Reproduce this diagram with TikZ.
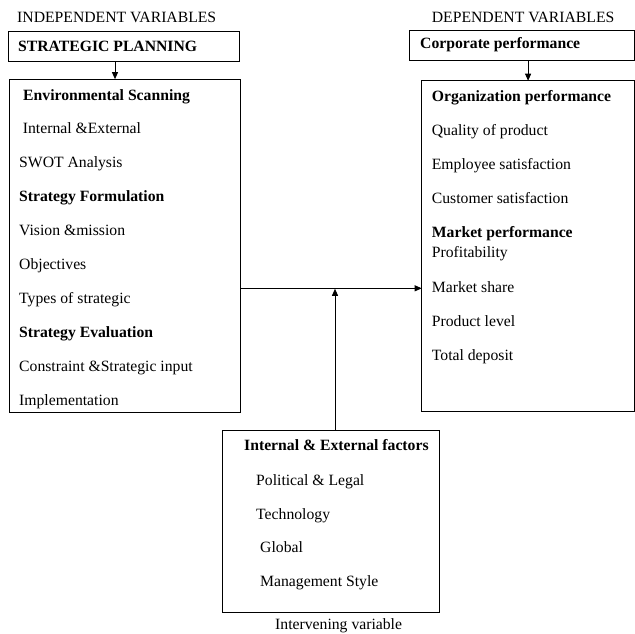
\documentclass[tikz,border=0pt]{standalone}
\usepackage{fontspec}
\setmainfont{Liberation Serif}
\usetikzlibrary{arrows.meta}
\tikzset{
  frame/.style={draw, line width=0.9pt, inner sep=0pt, outer sep=0pt},
  txt/.style={anchor=base west, inner sep=0pt, font=\fontsize{15.7}{18}\selectfont},
  head/.style={txt, font=\fontsize{15.7}{18}\selectfont\bfseries},
  arr/.style={-{Triangle[length=7pt,width=6pt]}, line width=0.9pt}
}

\begin{document}
\begin{tikzpicture}[x=1pt, y=-1pt]
  \useasboundingbox (0,0) rectangle (635,633);

  % --- independent side -------------------------------------------------
  \node[txt] (indlbl) at (17,22.7) {INDEPENDENT VARIABLES};
  \node[frame, minimum width=231pt, minimum height=30pt] (plan) at (123.8,46.7) {};
  \node[head] (plantxt) at (18,51.7) {STRATEGIC PLANNING};
  \node[frame, minimum width=231pt, minimum height=333.5pt] (indep) at (124.5,245.9) {};

  \node[head] (es) at (23,100) {Environmental Scanning};
  \node[txt] (ie) at (22.7,133) {Internal \&External};
  \node[txt] (swot) at (19,167) {SWOT Analysis};
  \node[head] (sf) at (19,201) {Strategy Formulation};
  \node[txt] (vm) at (19,235) {Vision \&mission};
  \node[txt] (obj) at (19,269) {Objectives};
  \node[txt] (types) at (19,303) {Types of strategic};
  \node[head] (se) at (19,337) {Strategy Evaluation};
  \node[txt] (csi) at (19,371) {Constraint \&Strategic input};
  \node[txt] (impl) at (19,405) {Implementation};

  \draw[arr] (plan.south -| 115,0) -- (indep.north -| 115,0);

  % --- dependent side ---------------------------------------------------
  \node[txt] (deplbl) at (431.7,22.7) {DEPENDENT VARIABLES};
  \node[frame, minimum width=225.5pt, minimum height=29.5pt] (corp) at (521.8,45.4) {};
  \node[head] (corptxt) at (420,48.3) {Corporate performance};
  \node[frame, minimum width=212.8pt, minimum height=331pt] (dep) at (528.1,246.2) {};

  \node[head] (op) at (431.7,101) {Organization performance};
  \node[txt] (qp) at (431.7,135) {Quality of product};
  \node[txt] (emp) at (431.7,169) {Employee satisfaction};
  \node[txt] (cust) at (431.7,203) {Customer satisfaction};
  \node[head] (mp) at (431.7,237) {Market performance};
  \node[txt] (prof) at (431.7,257.5) {Profitability};
  \node[txt] (ms) at (431.7,292) {Market share};
  \node[txt] (pl) at (431.7,326) {Product level};
  \node[txt] (td) at (431.7,360) {Total deposit};

  \draw[arr] (dep.north |- corp.south) -- (dep.north);

  % --- intervening ------------------------------------------------------
  \node[frame, minimum width=216.5pt, minimum height=181.6pt] (inter) at (331,521.5) {};
  \node[head] (ief) at (244,450.7) {Internal \& External factors};
  \node[txt] (pol) at (256,485) {Political \& Legal};
  \node[txt] (tech) at (256,519) {Technology};
  \node[txt] (glob) at (260,552.7) {Global};
  \node[txt] (mgmt) at (260,586.7) {Management Style};
  \node[txt] (intlbl) at (275,629.5) {Intervening variable};

  % --- links ------------------------------------------------------------
  \coordinate (junc) at (335,288.3);
  \draw[arr] (indep.east |- junc) -- (dep.west |- junc);
  \draw[arr] (inter.north -| junc) -- ([yshift=-0.5pt]junc);
\end{tikzpicture}
\end{document}
